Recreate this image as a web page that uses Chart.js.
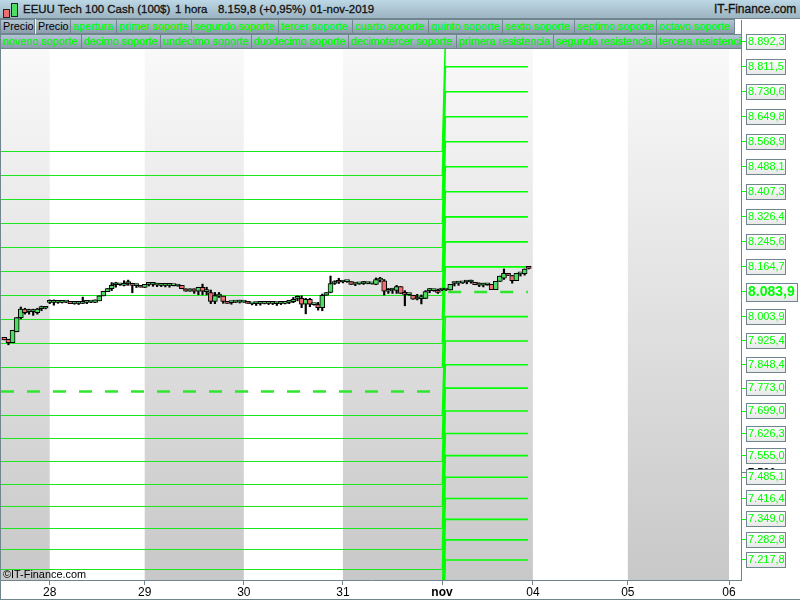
<!DOCTYPE html>
<html>
<head>
<meta charset="utf-8">
<title>EEUU Tech 100 Cash</title>
<script src="https://cdn.jsdelivr.net/npm/chart.js@4/dist/chart.umd.min.js"></script>
<style>
html, body { margin: 0; padding: 0; background: #fff; overflow: hidden; }
body { width: 800px; height: 600px; position: relative; font-family: "Liberation Sans", Arial, sans-serif; }
canvas { position: absolute; left: 0; top: 0; }
.header { position: absolute; left: 0; top: 0; width: 800px; height: 19px; box-sizing: border-box; border-bottom: 1px solid #71858f;
  background: linear-gradient(#bcd7e5, #9db4c2); }
.header span { position: absolute; top: 3px; font-size: 11.45px; -webkit-text-stroke: 0.3px #111; color: #111; white-space: nowrap; }
.ico { position: absolute; border: 1px solid #222; box-sizing: border-box; }
.tab { position: absolute; height: 15px; box-sizing: border-box; border: 1px solid #71858f; border-left: none; overflow: hidden;
  background: linear-gradient(#b2c6d3, #8b9cab); color: #00ff00; -webkit-text-stroke: 0.2px #00ff00; font-size: 10.8px; line-height: 13px; padding-left: 2px; white-space: nowrap; }
.tab.dark { color: #000; -webkit-text-stroke: 0; }
.edge { position: absolute; background: #71858f; }
.copy { position: absolute; left: 3px; top: 568px; font-size: 10.9px; color: #000; }
</style>
</head>
<body>
<canvas id="chart" width="800" height="600"></canvas>
<div class="edge" style="left:0;top:19px;width:1px;height:581px"></div>
<div class="edge" style="left:0;top:599px;width:800px;height:1px"></div>
<div class="copy">©IT-Finance.com</div>
<div class="header">
  <div class="ico" style="left:3px;top:9px;width:7px;height:9px;background:#ee6f6f"></div>
  <div class="ico" style="left:11px;top:3px;width:7px;height:14px;background:#4fdc63"></div>
  <span style="left:23px">EEUU Tech 100 Cash (100$)</span>
  <span style="left:175px">1 hora</span>
  <span style="left:218px">8.159,8 (+0,95%)</span>
  <span style="left:310px">01-nov-2019</span>
  <span style="left:714px;font-size:11.95px;top:2px">IT-Finance.com</span>
</div>
<div id="tabs"></div>
<script>
// precio, velas de 1 hora
const opens = [7937,7931,7920,7955,8001,8028,8020,8020,8017,8030,8031,
  8050,8050,8050,8050,8051,8053,8047,8047,8047,8050,8051,8050,8055,8071,8085,8094,8107,8107,8105,8111,8111,8104,8105,8098,8108,8108,8106,8105,8105,8105,8104,8103,8105,8094,8086,8094,8086,8099,8085,8082,8053,8070,8070,8053,
  8049,8051,8051,8051,8052,8045,8046,8047,8047,8047,8047,8046,8047,8047,8050,8052,8063,8063,8044,8060,8043,8043,8033,8073,8082,8111,8121,8116,8117,8117,8109,8110,8111,8111,8110,8108,8122,8120,8086,8090,8089,8101,8082,8075,8073,8061,8062,8063,8088,8088,8089,8090,
  8090,8090,8111,8112,8113,8116,8116,8115,8106,8106,8107,8108,8091,8118,8128,8144,8137,8120,8142,8143,8162];
const highs = [7937,7931,7960,8001,8035,8031,8028,8028,8031,8038,8034,
  8058,8058,8053,8052,8053,8053,8050,8052,8067,8053,8053,8058,8071,8086,8095,8114,8115,8109,8120,8122,8112,8109,8105,8108,8111,8114,8111,8108,8110,8108,8105,8104,8105,8094,8094,8094,8099,8109,8099,8090,8082,8082,8070,8053,
  8053,8053,8057,8053,8052,8047,8051,8051,8048,8051,8052,8051,8051,8048,8055,8066,8071,8071,8063,8063,8044,8050,8077,8082,8135,8120,8128,8120,8118,8117,8114,8111,8118,8112,8111,8129,8131,8124,8095,8095,8105,8101,8088,8076,8073,8076,8074,8088,8095,8090,8093,8092,
  8092,8108,8116,8117,8115,8120,8122,8115,8113,8112,8109,8108,8118,8135,8158,8144,8137,8144,8144,8158,8165];
const lows = [7929,7913,7920,7955,7997,8012,8012,8008,8012,8023,8029,
  8046,8041,8047,8048,8049,8046,8044,8043,8046,8046,8049,8049,8055,8071,8085,8088,8099,8105,8103,8105,8081,8098,8099,8098,8103,8102,8101,8101,8100,8099,8103,8102,8094,8086,8086,8079,8075,8075,8075,8046,8046,8066,8047,8047,
  8044,8049,8048,8050,8047,8042,8040,8041,8045,8043,8043,8040,8043,8045,8046,8049,8055,8033,8013,8036,8041,8025,8023,8073,8081,8108,8111,8113,8115,8108,8104,8108,8108,8110,8109,8107,8116,8074,8079,8079,8079,8079,8039,8073,8060,8058,8045,8062,8081,8086,8079,8088,
  8088,8090,8103,8105,8111,8110,8112,8107,8101,8100,8105,8091,8091,8118,8124,8137,8112,8120,8135,8138,8158];
const closes = [7929,7920,7960,8001,8028,8017,8020,8020,8028,8030,8031,
  8050,8050,8050,8050,8051,8046,8047,8047,8053,8050,8051,8058,8071,8086,8095,8105,8107,8107,8111,8111,8105,8104,8099,8108,8108,8108,8106,8105,8105,8105,8104,8103,8094,8086,8094,8086,8099,8086,8085,8053,8072,8070,8053,8047,
  8049,8051,8051,8051,8047,8045,8046,8047,8047,8047,8047,8046,8047,8047,8050,8060,8063,8044,8060,8044,8043,8033,8073,8082,8111,8117,8115,8116,8117,8108,8109,8110,8111,8111,8110,8124,8122,8086,8092,8090,8101,8079,8076,8075,8060,8061,8062,8085,8088,8088,8082,8090,
  8090,8108,8111,8112,8113,8116,8116,8107,8106,8106,8107,8091,8118,8135,8144,8137,8120,8144,8142,8158,8160];

// niveles: soportes y resistencias, sesion anterior y sesion de nov
const prevResistances = [7839.6,7917.2,7994.7,8072.2,8149.8,8227.3,8304.9,8382.4,8460.0,8537.5];
const prevPivot = 7762.1;
const prevSupports = [7684.5,7610.2,7535.9,7461.6,7390.5,7319.4,7251.6,7186.9,7116,7053,6991,6930];
const lastResistances = [8164.7,8245.6,8326.4,8407.3,8488.1,8568.9,8649.8,8730.6,8811.5,8892.3];
const lastPivot = 8083.9;
const lastSupports = [8003.9,7925.4,7848.4,7773.0,7699.0,7626.3,7555.0,7485.1,7416.4,7349.0,7282.8,7217.8];

// eje x: indice de vela donde empieza cada dia
const dayTicks = [11,34,58,82,106,128,151,175.5];
const dayLabels = ['28','29','30','31','nov','04','05','06'];
const shadedDays = [[-1,11],[34,58],[82,106],[106,128],[151,175.5]];
const priceTicks = [8892.3,8811.5,8730.6,8649.8,8568.9,8488.1,8407.3,8326.4,8245.6,8164.7,8083.9,8003.9,7925.4,7848.4,7773.0,7699.0,7626.3,7555.0,7485.1,7416.4,7349.0,7282.8,7217.8];
const hiddenTick = 7500;

const row1 = [['Precio',1,35],['Precio',36,71],['apertura',71,117],['primer soporte',117,192],['segundo soporte',192,279],['tercer soporte',279,353],['cuarto soporte',353,429],['quinto soporte',429,503],['sexto soporte',503,575],['septimo soporte',575,657],['octavo soporte',657,735]];
const row2 = [['noveno soporte',1,82],['decimo soporte',82,161],['undecimo soporte',161,252],['duodecimo soporte',252,349],['decimotercer soporte',349,457],['primera resistencia',457,554],['segunda resistencia',554,657],['tercera resistencia',657,742]];

const tabsBox = document.getElementById('tabs');
function addTabs(row, top) {
    row.forEach(t => {
        const d = document.createElement('div');
        d.className = 'tab' + (t[0] === 'Precio' ? ' dark' : '');
        d.textContent = t[0];
        d.style.left = t[1] + 'px';
        d.style.top = top + 'px';
        d.style.width = (t[2] - t[1]) + 'px';
        tabsBox.appendChild(d);
    });
}
addTabs(row1, 19);
addTabs(row2, 34);

const lineColor = '#1ee61e';
const brightColor = '#00ff00';
const borderColor = '#71858f';
const leftEnd = 106.1, rightStart = 106.8, rightEnd = 126.8, xMin = -0.8;

function formatPrice(v) {
    return v.toFixed(1).replace('.', ',').replace(/\B(?=(\d{3})+,)/g, '.');
}

function levelDataset(prev, last) {
    return {
        type: 'line',
        data: [{x: xMin, y: prev}, {x: leftEnd, y: prev}, {x: rightStart, y: last}, {x: rightEnd, y: last}],
        borderWidth: 1,
        borderColor: brightColor,
        segment: {
            borderColor: ctx => ctx.p0DataIndex === 0 ? lineColor : brightColor,
            borderWidth: ctx => ctx.p0DataIndex === 0 ? 1 : 1.6
        },
        pointRadius: 0,
        tension: 0,
        order: 3
    };
}

const levelSets = [];
prevResistances.forEach((v, i) => levelSets.push(levelDataset(v, lastResistances[i])));
prevSupports.forEach((v, i) => levelSets.push(levelDataset(v, lastSupports[i])));

// apertura, a trazos y sin union entre sesiones
const pivotSet = {
    type: 'line',
    data: [{x: xMin, y: prevPivot}, {x: 104, y: prevPivot}, {x: 104.5, y: null}, {x: 107.4, y: null}, {x: 107.5, y: lastPivot}, {x: rightEnd, y: lastPivot}],
    borderWidth: 2.5,
    borderColor: '#2ee62e',
    borderDash: [13, 13],
    pointRadius: 0,
    spanGaps: false,
    order: 2
};

const bodySet = {
    type: 'bar',
    data: opens.map((o, i) => ({x: i, y: [o, closes[i]]})),
    backgroundColor: opens.map((o, i) => closes[i] >= o ? '#4fdc63' : '#ee6f6f'),
    borderColor: '#000',
    borderWidth: 1,
    borderSkipped: false,
    barThickness: 5,
    minBarLength: 2,
    grouped: false,
    order: 0
};
const wickSet = {
    type: 'bar',
    data: highs.map((h, i) => ({x: i, y: [lows[i], h]})),
    backgroundColor: '#000',
    barThickness: 1.5,
    grouped: false,
    order: 1
};

const boxPlugin = {
    id: 'boxes',
    beforeDatasetsDraw(chart) {
        const {ctx, chartArea: a, scales: {x, y}} = chart;
        ctx.save();
        const g = ctx.createLinearGradient(0, 50, 0, 580);
        g.addColorStop(0, '#f9f9f9');
        g.addColorStop(1, '#c8c8c8');
        ctx.fillStyle = g;
        shadedDays.forEach(d => {
            const x0 = Math.max(x.getPixelForValue(d[0]), a.left);
            ctx.fillRect(x0, a.top, x.getPixelForValue(d[1]) - x0, a.height);
        });
        ctx.restore();
    },
    afterDatasetsDraw(chart) {
        const {ctx, chartArea: a, scales: {y}} = chart;
        ctx.save();
        // etiqueta tapada por la caja de 7.485,1
        const hy = y.getPixelForValue(hiddenTick);
        ctx.fillStyle = '#000';
        ctx.font = 'bold 11px "Liberation Sans"';
        ctx.textBaseline = 'middle';
        ctx.fillText(formatPrice(hiddenTick).slice(0, 5), 748, hy);
        ctx.strokeStyle = borderColor;
        ctx.beginPath();
        ctx.moveTo(a.right, Math.round(hy) - 0.5);
        ctx.lineTo(a.right + 6, Math.round(hy) - 0.5);
        ctx.stroke();
        priceTicks.forEach(v => {
            const py = Math.round(y.getPixelForValue(v));
            const big = v === lastPivot;
            const h = big ? 18 : 15, w = big ? 51 : 39;
            const top = py - (big ? 9 : 8) + 0.5;
            const g = ctx.createLinearGradient(0, top, 0, top + h);
            g.addColorStop(0, '#ffffff');
            g.addColorStop(1, '#e8e8e8');
            ctx.fillStyle = g;
            ctx.fillRect(746.5, top, w, h);
            ctx.strokeRect(746.5, top, w, h);
        });
        ctx.restore();
    }
};

new Chart(document.getElementById('chart'), {
    type: 'bar',
    data: {
        datasets: [bodySet, wickSet, pivotSet, ...levelSets]
    },
    plugins: [boxPlugin],
    options: {
        responsive: false,
        animation: false,
        events: [],
        layout: {padding: {left: 1, top: 20, right: 0, bottom: 0}},
        plugins: {legend: {display: false}, tooltip: {enabled: false}},
        scales: {
            x: {
                type: 'linear',
                min: xMin,
                max: 178.4,
                offset: false,
                afterBuildTicks: axis => { axis.ticks = dayTicks.map(v => ({value: v})); },
                afterFit: axis => { axis.height = 20; },
                grid: {offset: false, drawOnChartArea: false, tickLength: 5, tickColor: borderColor},
                border: {color: borderColor, width: 1},
                ticks: {
                    autoSkip: false,
                    maxRotation: 0,
                    padding: 0,
                    color: '#000',
                    font: ctx => ({family: '"Liberation Sans"', size: 12, weight: dayLabels[ctx.index] === 'nov' ? 'bold' : 'normal'}),
                    callback: (v, i) => dayLabels[i]
                }
            },
            y: {
                position: 'right',
                min: 7153.02,
                max: 8962.38,
                afterBuildTicks: axis => { axis.ticks = priceTicks.map(v => ({value: v})); },
                afterFit: axis => { axis.width = 59; },
                grid: {drawOnChartArea: false, tickLength: 5, tickColor: brightColor},
                border: {color: borderColor, width: 1},
                ticks: {
                    autoSkip: false,
                    padding: 2,
                    z: 1,
                    color: brightColor,
                    font: ctx => ctx.tick && ctx.tick.value === lastPivot
                        ? {family: '"Liberation Sans"', size: 14, weight: 'bold'}
                        : {family: '"Liberation Sans"', size: 11},
                    callback: v => formatPrice(v)
                }
            }
        }
    }
});
</script>
</body>
</html>
